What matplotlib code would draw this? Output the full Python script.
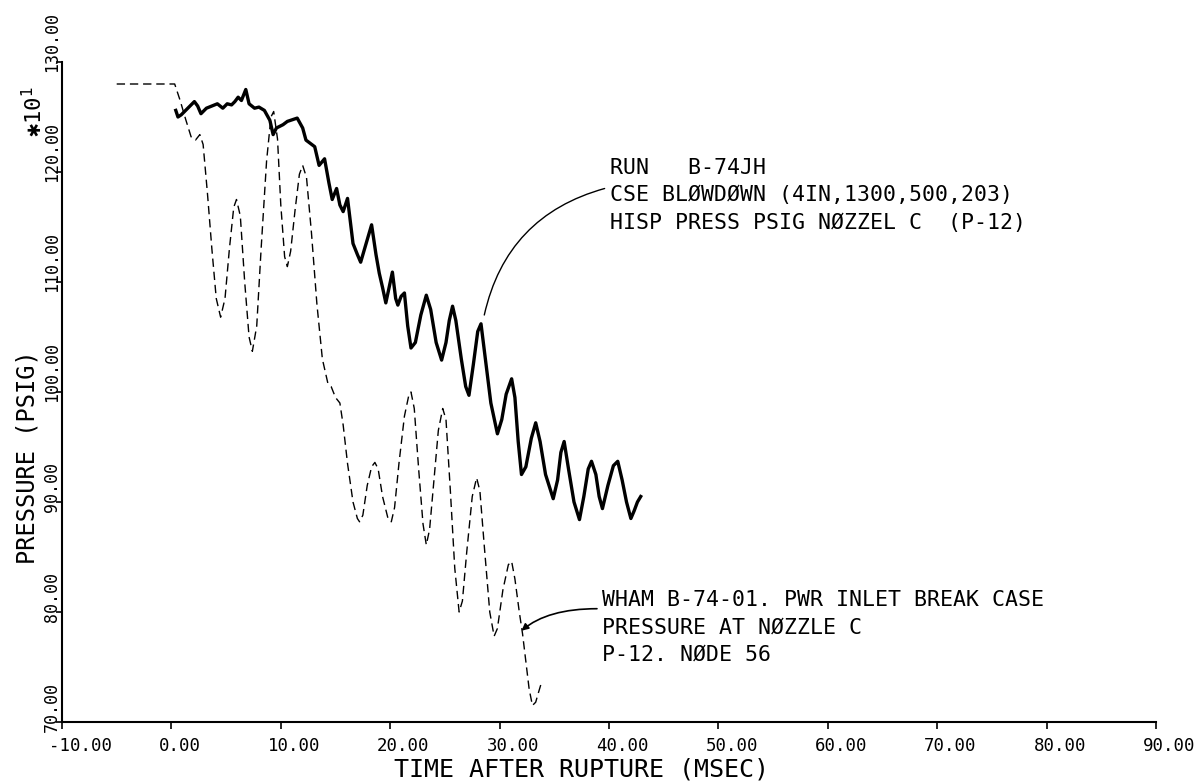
import matplotlib
matplotlib.use("Agg")
import matplotlib.pyplot as plt
import matplotlib.transforms as mtransforms

# WHAM calculation (dashed) - time in msec, pressure in psig x10
wham_t = [-5.0, 0.3, 0.8, 1.3, 1.8, 2.2, 2.6, 2.9, 3.3, 3.7, 4.1, 4.5, 4.9, 5.3, 5.7, 5.95,
          6.3, 6.7, 7.1, 7.4, 7.8, 8.2, 8.7, 9.1, 9.35, 9.7, 10.0, 10.35, 10.6, 10.9, 11.3,
          11.7, 12.0, 12.35, 12.8, 13.3, 13.8, 14.3, 14.6, 15.0, 15.4, 15.7, 16.1, 16.6,
          17.0, 17.2, 17.5, 17.9, 18.3, 18.6, 18.9, 19.3, 19.8, 20.1, 20.4, 20.8, 21.3,
          21.7, 21.9, 22.2, 22.6, 23.0, 23.3, 23.6, 24.0, 24.4, 24.8, 25.1, 25.5, 25.9,
          26.3, 26.6, 27.0, 27.5, 27.9, 28.2, 28.6, 29.1, 29.5, 29.8, 30.3, 30.8, 31.1,
          31.4, 31.8, 32.1, 32.4, 32.7, 33.0, 33.3, 33.5, 33.8]
wham_p = [128.0, 128.0, 126.5, 124.8, 123.2, 122.9, 123.4, 122.5, 118.0, 113.0, 108.5, 106.8,
          108.5, 113.0, 116.8, 117.5, 116.0, 110.0, 105.0, 103.7, 106.0, 113.0, 121.0, 125.0,
          125.5, 123.0, 117.0, 112.3, 111.4, 112.8, 116.5, 119.8, 120.6, 119.5, 114.5, 108.0,
          103.0, 100.8, 100.5, 99.5, 99.0, 97.0, 93.5, 90.0, 88.5, 88.2, 88.8, 91.5, 93.2,
          93.6, 93.0, 90.5, 88.5, 88.2, 89.5, 93.5, 97.8, 99.7, 100.0, 98.5, 93.0, 88.0, 86.1,
          87.5, 92.0, 96.5, 98.5, 97.5, 91.0, 84.0, 80.0, 81.0, 85.5, 90.5, 92.2, 91.0, 86.0,
          80.0, 77.8, 78.5, 82.0, 84.3, 84.6, 83.0, 80.0, 78.0, 75.5, 73.0, 71.5, 71.8, 72.5,
          73.5]

# Run B-74JH measured pressure (solid)
run_t = [0.4, 0.6, 0.9, 1.2, 1.6, 2.1, 2.4, 2.7, 3.2, 3.7, 4.2, 4.7, 5.1, 5.5, 5.8, 6.1, 6.4,
         6.8, 7.1, 7.6, 8.0, 8.5, 9.0, 9.3, 9.6, 10.2, 10.6, 10.9, 11.5, 12.0, 12.3, 12.7,
         13.1, 13.5, 14.0, 14.4, 14.7, 15.1, 15.4, 15.7, 16.1, 16.6, 17.0, 17.3, 17.8, 18.3,
         18.7, 19.0, 19.3, 19.6, 19.9, 20.2, 20.5, 20.7, 21.0, 21.3, 21.6, 21.9, 22.3, 22.8,
         23.3, 23.7, 24.2, 24.7, 25.1, 25.4, 25.7, 26.0, 26.5, 26.9, 27.2, 27.6, 28.0, 28.3,
         28.7, 29.2, 29.8, 30.2, 30.6, 31.1, 31.4, 31.7, 32.0, 32.4, 32.9, 33.3, 33.7, 34.2,
         34.9, 35.3, 35.6, 35.9, 36.3, 36.8, 37.3, 37.7, 38.1, 38.4, 38.8, 39.1, 39.4, 39.9,
         40.4, 40.8, 41.2, 41.6, 42.0, 42.3, 42.6, 42.9]
run_p = [125.6, 125.0, 125.2, 125.5, 125.9, 126.4, 126.0, 125.3, 125.8, 126.0, 126.2, 125.8,
         126.2, 126.1, 126.4, 126.8, 126.5, 127.5, 126.2, 125.8, 125.9, 125.6, 124.7, 123.4,
         124.0, 124.3, 124.6, 124.7, 124.9, 124.0, 122.9, 122.6, 122.3, 120.6, 121.2, 119.0,
         117.5, 118.5, 117.0, 116.4, 117.6, 113.5, 112.5, 111.8, 113.5, 115.2, 112.5, 110.8,
         109.5, 108.1, 109.5, 110.9, 108.5, 107.9, 108.7, 109.0, 106.0, 104.0, 104.5, 107.0,
         108.8, 107.5, 104.5, 102.9, 104.5, 106.5, 107.8, 106.5, 103.0, 100.5, 99.7, 102.5,
         105.5, 106.2, 103.0, 99.0, 96.2, 97.5, 99.8, 101.2, 99.5, 95.5, 92.5, 93.2, 95.8,
         97.2, 95.5, 92.5, 90.3, 92.0, 94.5, 95.5, 93.0, 90.0, 88.4, 90.5, 93.0, 93.7, 92.5,
         90.5, 89.4, 91.5, 93.3, 93.7, 92.0, 90.0, 88.5, 89.2, 90.0, 90.5]

xticks = [-10, 0, 10, 20, 30, 40, 50, 60, 70, 80, 90]
yticks = [70, 80, 90, 100, 110, 120, 130]

run_text = ["RUN   B-74JH",
            "CSE BLØWDØWN (4IN,1300,500,203)",
            "HISP PRESS PSIG NØZZEL C  (P-12)"]
wham_text = ["WHAM B-74-01. PWR INLET BREAK CASE",
             "PRESSURE AT NØZZLE C",
             "P-12. NØDE 56"]

mono = "DejaVu Sans Mono"
plt.rcParams["font.family"] = mono

fig = plt.figure(figsize=(11.99, 7.81), dpi=100)
ax = fig.add_axes([62/1199, 1-722/781, (1156-62)/1199, (722-62)/781])

ax.plot(run_t, run_p, color="black", lw=2.4, solid_joinstyle="round")
ax.plot(wham_t, wham_p, color="black", lw=1.0, dashes=(6, 3.5))

ax.set_xlim(-10, 90)
ax.set_ylim(70, 130)
for s in ["top", "right"]:
    ax.spines[s].set_visible(False)
ax.spines["left"].set_linewidth(1.5)
ax.spines["bottom"].set_linewidth(1.5)

ax.set_xticks(xticks)
ax.set_xticklabels(["%.2f" % v for v in xticks])
ax.set_yticks(yticks)
ax.set_yticklabels(["%.2f" % v for v in yticks])
ax.tick_params(axis="both", direction="out", width=1.2, labelsize=12.5)
ax.tick_params(axis="x", length=5, pad=6)
ax.tick_params(axis="y", length=4, pad=-3, labelsize=12)

dx = mtransforms.ScaledTranslation(-13/100, 0, fig.dpi_scale_trans)
for lbl in ax.get_xticklabels():
    lbl.set_ha("left")
    lbl.set_transform(lbl.get_transform() + dx)
dy = mtransforms.ScaledTranslation(0, -10/100, fig.dpi_scale_trans)
for lbl in ax.get_yticklabels():
    lbl.set_rotation(90)
    lbl.set_va("bottom")
    lbl.set_transform(lbl.get_transform() + dy)

fig.text(28/1199, 1-457/781, "PRESSURE (PSIG)", rotation=90, ha="center", va="center",
         fontsize=17)
fig.text(33/1199, 1-112/781, "✱10$^{1}$", rotation=90, ha="center", va="center",
         fontsize=16, family=[mono, "DejaVu Sans"])
fig.text(582/1199, 1-769/781, "TIME AFTER RUPTURE (MSEC)", ha="center", va="center",
         fontsize=18)

for i, line in enumerate(run_text):
    ax.text(40.1, 120.4 - i * 2.5, line, fontsize=15.5, va="center", ha="left")
for i, line in enumerate(wham_text):
    ax.text(39.4, 81.1 - i * 2.5, line, fontsize=15.5, va="center", ha="left")

ax.annotate("", xy=(28.6, 107.0), xytext=(39.6, 118.5),
            arrowprops=dict(arrowstyle="-", lw=1.0, color="black",
                            connectionstyle="arc3,rad=0.3", shrinkA=0, shrinkB=0))
ax.annotate("", xy=(32.0, 78.3), xytext=(38.9, 80.3),
            arrowprops=dict(arrowstyle="-|>", lw=1.2, color="black", mutation_scale=10,
                            connectionstyle="angle3,angleA=0,angleB=40",
                            shrinkA=0, shrinkB=0))

fig.savefig("out.png", dpi=100)
